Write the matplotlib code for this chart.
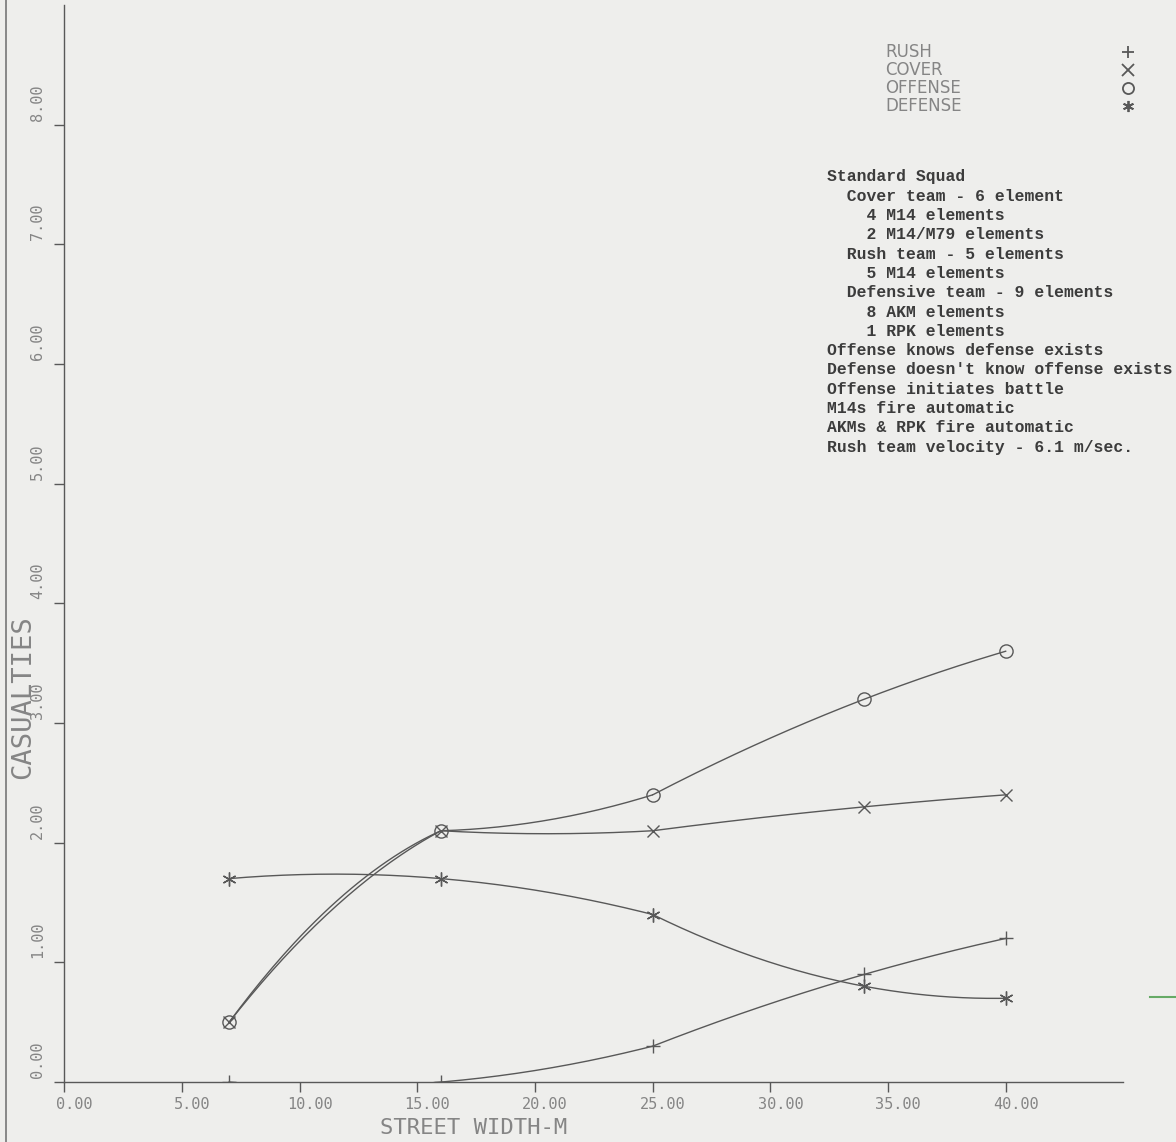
import numpy as np
import matplotlib
matplotlib.use("Agg")
import matplotlib.pyplot as plt
from matplotlib.lines import Line2D
from matplotlib.transforms import ScaledTranslation

# street width (m) and casualties per side
street_width = [7, 16, 25, 34, 40]
rush = [0.0, 0.0, 0.3, 0.9, 1.2]
cover = [0.5, 2.1, 2.1, 2.3, 2.4]
offense = [0.5, 2.1, 2.4, 3.2, 3.6]
defense = [1.7, 1.7, 1.4, 0.8, 0.7]

series_names = ["RUSH", "COVER", "OFFENSE", "DEFENSE"]
series_markers = ["+", "x", "o", (6, 2, 0)]

x_ticks = [0, 5, 10, 15, 20, 25, 30, 35, 40]
y_ticks = [0, 1, 2, 3, 4, 5, 6, 7, 8]

notes = [
    "Standard Squad",
    "  Cover team - 6 element",
    "    4 M14 elements",
    "    2 M14/M79 elements",
    "  Rush team - 5 elements",
    "    5 M14 elements",
    "  Defensive team - 9 elements",
    "    8 AKM elements",
    "    1 RPK elements",
    "Offense knows defense exists",
    "Defense doesn't know offense exists",
    "Offense initiates battle",
    "M14s fire automatic",
    "AKMs & RPK fire automatic",
    "Rush team velocity - 6.1 m/sec.",
]

BG = "#eeeeec"
INK = "#585858"
PEN = "#858585"


def plotter_curve(x, y, n=60):
    # old plotter style: each span drawn from a parabola through
    # the point, the next one and the one after (last spans reuse the final three)
    x = np.asarray(x, float)
    y = np.asarray(y, float)
    xs_all, ys_all = [], []
    for i in range(len(x) - 1):
        j = min(i, len(x) - 3)
        c = np.polyfit(x[j:j + 3], y[j:j + 3], 2)
        xs = np.linspace(x[i], x[i + 1], n)
        xs_all.append(xs)
        ys_all.append(np.polyval(c, xs))
    return np.concatenate(xs_all), np.concatenate(ys_all)


fig = plt.figure(figsize=(11.76, 11.42), dpi=100, facecolor=BG)
ax = fig.add_axes([0.0548, 0.0525, 0.9004, 0.9431], facecolor=BG)

marker_sizes = [10, 9, 9.5, 10]
for vals, mk, ms in zip([rush, cover, offense, defense], series_markers, marker_sizes):
    xs, ys = plotter_curve(street_width, vals)
    ax.plot(xs, ys, color=INK, lw=1.0)
    ax.plot(street_width, vals, linestyle="none", marker=mk, markersize=ms,
            markerfacecolor="none", markeredgecolor=INK, markeredgewidth=1.0)

ax.set_xlim(0, 45)
ax.set_ylim(0, 9)
for side in ["top", "right"]:
    ax.spines[side].set_visible(False)
for side in ["left", "bottom"]:
    ax.spines[side].set_color(INK)
    ax.spines[side].set_linewidth(1.0)

ax.set_xticks(x_ticks)
ax.set_xticklabels([f"{v:.2f}" for v in x_ticks])
ax.set_yticks(y_ticks)
ax.set_yticklabels([f"{v:.2f}" for v in y_ticks], rotation=90, va="bottom")
ax.tick_params(axis="both", direction="out", length=7, width=1.0, color=INK,
               labelcolor=PEN)
ax.tick_params(axis="x", pad=4)
ax.tick_params(axis="y", pad=7)
for lab in ax.get_xticklabels():
    lab.set_fontfamily("DejaVu Sans Mono")
    lab.set_fontsize(11)
    lab.set_transform(lab.get_transform() + ScaledTranslation(0.10, 0, fig.dpi_scale_trans))
for lab in ax.get_yticklabels():
    lab.set_fontfamily("DejaVu Sans Mono")
    lab.set_fontsize(11)
    lab.set_transform(lab.get_transform() + ScaledTranslation(0, 0.04, fig.dpi_scale_trans))

ax.text(0.386, -0.0427, "STREET WIDTH-M", transform=ax.transAxes, ha="center",
        va="center", fontsize=16, family="DejaVu Sans Mono", color=PEN)
ax.text(-0.0392, 0.3575, "CASUALTIES", transform=ax.transAxes, ha="center",
        va="center", rotation=90, fontsize=19.5, family="DejaVu Sans Mono", color=PEN)

# legend drawn like the plotter: name on the left, symbol far right
for i, (name, mk) in enumerate(zip(series_names, series_markers)):
    yy = 0.9564 - i * 0.0167
    ax.text(0.775, yy, name, transform=ax.transAxes, ha="left", va="center",
            fontsize=12, family="DejaVu Sans", color=PEN)
    ax.plot([1.0044], [yy], transform=ax.transAxes, marker=mk, markersize=8,
            markerfacecolor="none", markeredgecolor=INK, markeredgewidth=1.3,
            linestyle="none", clip_on=False)

ax.text(0.7205, 0.8475, "\n".join(notes), transform=ax.transAxes, ha="left",
        va="top", fontsize=11.8, family="Liberation Mono", fontweight="bold",
        color="#3c3c3c", linespacing=1.36)

# scan border on the left and the stray green mark on the right
fig.add_artist(Line2D([0.005, 0.005], [0.0, 1.0], color="#777777", lw=1.2))
fig.add_artist(Line2D([0.978, 1.0], [0.127, 0.127], color="#66aa66", lw=1.5))

fig.savefig("out.png", dpi=100, facecolor=BG)
